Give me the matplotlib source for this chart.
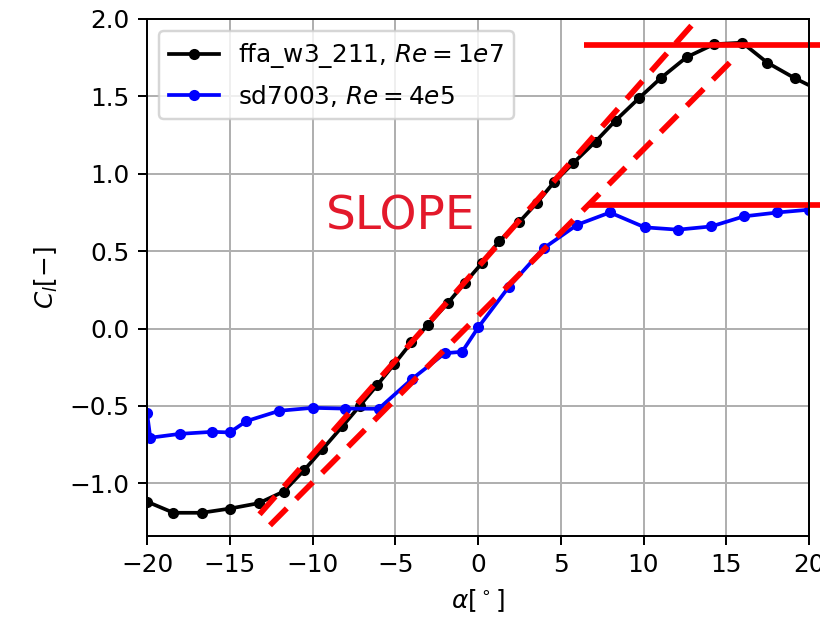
import matplotlib
matplotlib.use("Agg")
import matplotlib.pyplot as plt

# ffa_w3_211, Re = 1e7
ffa_alpha = [-20.0, -18.4, -16.7, -15.0, -13.25, -11.75, -10.5, -9.4, -8.2, -7.15,
             -6.1, -5.08, -4.02, -3.0, -1.83, -0.8, 0.25, 1.28, 2.47, 3.54,
             4.58, 5.75, 7.1, 8.31, 9.72, 11.03, 12.6, 14.26, 15.97, 17.48,
             19.15, 20.8]
ffa_cl = [-1.118, -1.19, -1.19, -1.163, -1.128, -1.053, -0.914, -0.78, -0.632, -0.5,
          -0.366, -0.232, -0.089, 0.026, 0.164, 0.295, 0.424, 0.565, 0.686, 0.81,
          0.944, 1.069, 1.208, 1.344, 1.488, 1.617, 1.753, 1.837, 1.847, 1.718,
          1.617, 1.53]

# sd7003, Re = 4e5
sd_alpha = [-20.0, -19.8, -18.0, -16.05, -15.0, -14.0, -12.0, -10.0, -8.05, -6.0,
            -3.98, -2.0, -0.96, 0.03, 1.86, 3.98, 6.0, 7.97, 10.08, 12.08,
            14.1, 16.07, 18.09, 20.0]
sd_cl = [-0.544, -0.705, -0.68, -0.667, -0.671, -0.598, -0.531, -0.512, -0.517, -0.518,
         -0.325, -0.159, -0.15, 0.01, 0.269, 0.52, 0.671, 0.75, 0.654, 0.639,
         0.66, 0.725, 0.75, 0.768]

labels = ["ffa_w3_211, $Re=1e7$", "sd7003, $Re=4e5$"]

# hand-drawn annotations (data coordinates)
slope1_x = [-13.2, 13.05]
slope1_y = [-1.2, 1.976]
slope2_x = [-12.57, 15.47]
slope2_y = [-1.271, 1.746]
max1_x = [6.38, 20.7]
max1_y = [1.834, 1.834]
max2_x = [6.56, 20.7]
max2_y = [0.80, 0.80]
note_text = "SLOPE"
note_pos = (-4.7, 0.72)

DPI = 178
fig = plt.figure(figsize=(820 / DPI, 623 / DPI), dpi=DPI)
ax = fig.add_axes([147 / 820, 87 / 623, 662 / 820, 517 / 623])

ax.plot(ffa_alpha, ffa_cl, color="black", marker=".", markersize=7, label=labels[0])
ax.plot(sd_alpha, sd_cl, color="blue", marker=".", markersize=7, label=labels[1])

ax.set_xlim(-20, 20)
ax.set_ylim(-1.34, 2.0)
ax.set_xticks([-20, -15, -10, -5, 0, 5, 10, 15, 20])
ax.set_yticks([-1.0, -0.5, 0.0, 0.5, 1.0, 1.5, 2.0])
ax.grid(True)
ax.set_xlabel(r"$\alpha[^\circ]$")
ax.set_ylabel(r"$C_l[-]$")
ax.legend(loc="upper left")

red_lw = 2.3
for xs, ys in [(slope1_x, slope1_y), (slope2_x, slope2_y)]:
    ln, = ax.plot(xs, ys, color="#ff0000", lw=red_lw, clip_on=False,
                  dash_capstyle="butt")
    ln.set_dashes((4.2, 2.3))
for xs, ys in [(max1_x, max1_y), (max2_x, max2_y)]:
    ax.plot(xs, ys, color="#ff0000", lw=red_lw, clip_on=False, solid_capstyle="butt")

ax.text(note_pos[0], note_pos[1], note_text, color="#e3192b", fontsize=19,
        ha="center", va="center")

fig.savefig("out.png", dpi=DPI)
